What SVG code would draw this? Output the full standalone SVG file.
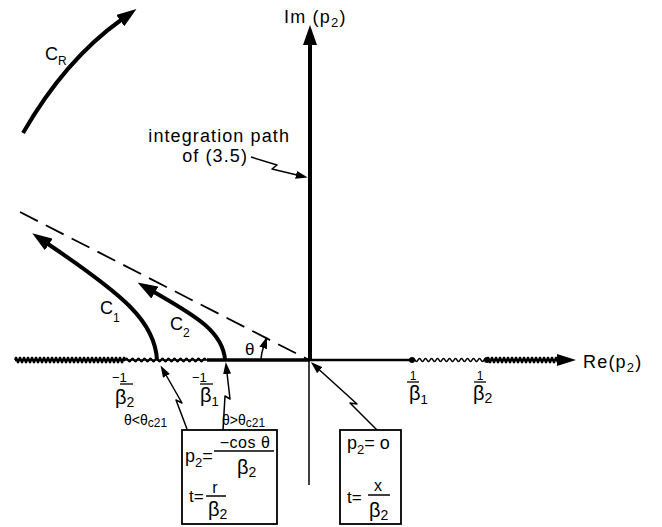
<svg xmlns="http://www.w3.org/2000/svg" width="662" height="527" viewBox="0 0 662 527">
<defs>
<style>
.t{font-family:"Liberation Sans",Arial,sans-serif;fill:#000}
.ln{fill:none;stroke:#000;stroke-linecap:butt;stroke-linejoin:round}
.bold{stroke-width:4}
.thin{stroke-width:1.5}
.box{fill:#fff;stroke:#000;stroke-width:1.8}
</style>
<marker id="big" viewBox="0 0 20 14" refX="1" refY="7" markerWidth="20" markerHeight="14" markerUnits="userSpaceOnUse" orient="auto">
<path d="M0,0 L20,7 L0,14 z" fill="#000"/>
</marker>
<marker id="sm" viewBox="0 0 12 8" refX="1" refY="4" markerWidth="12" markerHeight="8" markerUnits="userSpaceOnUse" orient="auto">
<path d="M0,0 L12,4 L0,8 z" fill="#000"/>
</marker>
</defs>
<rect width="662" height="527" fill="#fff"/>

<g id="axes">
<line class="ln" x1="309" y1="360" x2="309" y2="485" stroke-width="1.5"/>
<line class="ln bold" x1="310" y1="360" x2="310" y2="44" marker-end="url(#big)"/>
<line class="ln" x1="207" y1="360" x2="310" y2="360" stroke-width="3.5"/>
<line class="ln" x1="309" y1="360" x2="412" y2="360" stroke-width="2.4"/>
<path class="ln" stroke-width="2" d="M15,360 q1,-5 2,0 t2,0 t2,0 t2,0 t2,0 t2,0 t2,0 t2,0 t2,0 t2,0 t2,0 t2,0 t2,0 t2,0 t2,0 t2,0 t2,0 t2,0 t2,0 t2,0 t2,0 t2,0 t2,0 t2,0 t2,0 t2,0 t2,0 t2,0 t2,0 t2,0 t2,0 t2,0 t2,0 t2,0 t2,0 t2,0 t2,0 t2,0 t2,0 t2,0 t2,0 t2,0 t2,0 t2,0 t2,0 t2,0 t2,0 t2,0 t2,0 t2,0 t2,0 t2,0 t2,0 t2,0 t2,0"/>
<line class="ln" x1="15" y1="360" x2="125" y2="360" stroke-width="2.4"/>
<path class="ln" stroke-width="1.8" d="M125,360 q1.5,-3 3,0 t3,0 t3,0 t3,0 t3,0 t3,0 t3,0 t3,0 t3,0 t3,0 t3,0 t3,0 t3,0 t3,0 t3,0 t3,0 t3,0 t3,0 t3,0 t3,0 t3,0 t3,0 t3,0 t3,0 t3,0 t3,0 t3,0"/>
<line class="ln" x1="125" y1="360" x2="209" y2="360" stroke-width="1.4"/>
<path class="ln" stroke-width="1.6" d="M412,360 q1.5,-3 3,0 t3,0 t3,0 t3,0 t3,0 t3,0 t3,0 t3,0 t3,0 t3,0 t3,0 t3,0 t3,0 t3,0 t3,0 t3,0 t3,0 t3,0 t3,0 t3,0 t3,0 t3,0 t3,0 t3,0 t3,0"/>
<path class="ln" stroke-width="2" d="M487,360 q1,-5 2,0 t2,0 t2,0 t2,0 t2,0 t2,0 t2,0 t2,0 t2,0 t2,0 t2,0 t2,0 t2,0 t2,0 t2,0 t2,0 t2,0 t2,0 t2,0 t2,0 t2,0 t2,0 t2,0 t2,0 t2,0 t2,0 t2,0 t2,0 t2,0 t2,0 t2,0 t2,0 t2,0 t2,0 t2,0 t2,0"/>
<line class="ln" x1="487" y1="360" x2="559" y2="360" stroke-width="2.4"/>
<path d="M557,354 L576,360 L557,366 z" fill="#000"/>
<circle cx="412" cy="360" r="3" fill="#000"/>
<circle cx="487" cy="360" r="3" fill="#000"/>
<text class="t" x="284" y="23" font-size="18" letter-spacing="1.2">Im (p<tspan font-size="13" dy="4">2</tspan><tspan dy="-4">)</tspan></text>
<text class="t" x="583" y="368" font-size="18" letter-spacing="1.2">Re(p<tspan font-size="13" dy="4">2</tspan><tspan dy="-4">)</tspan></text>
</g>

<g id="dashed-line">
<line class="ln" x1="20" y1="212" x2="309" y2="360" stroke-width="1.8" stroke-dasharray="20,9"/>
</g>

<g id="C_R">
<path class="ln bold" d="M23,133 Q65,60 121,20" marker-end="url(#big)"/>
<text class="t" x="45" y="60" font-size="18">C<tspan font-size="12" dy="5">R</tspan></text>
</g>

<g id="C1">
<path class="ln bold" d="M157,360 C155,322 125,296 48,244" marker-end="url(#big)"/>
<text class="t" x="100" y="314" font-size="18">C<tspan font-size="12" dy="8">1</tspan></text>
</g>

<g id="C2">
<path class="ln bold" d="M225,360 C223,330 190,313 154,292" marker-end="url(#big)"/>
<text class="t" x="170" y="330" font-size="18">C<tspan font-size="12" dy="7">2</tspan></text>
</g>

<g id="theta">
<text class="t" x="245" y="355" font-size="17">θ</text>
<path class="ln" stroke-width="1.5" d="M261,359 A48,48 0 0 1 263.5,347" marker-end="url(#sm)"/>
</g>

<g id="integration-label">
<text class="t" x="290" y="142" font-size="18" text-anchor="end" letter-spacing="1.1">integration path</text>
<text class="t" x="248" y="162" font-size="18" text-anchor="end" letter-spacing="1.1">of (3.5)</text>
</g>

<g id="tick-labels">
<text class="t" x="112" y="382" font-size="13">−1</text>
<line class="ln" x1="120" y1="384" x2="133" y2="384" stroke-width="1.3"/>
<text class="t" x="115" y="404" font-size="20">β<tspan font-size="14" dy="3">2</tspan></text>
<text class="t" x="192" y="382" font-size="13">−1</text>
<line class="ln" x1="200" y1="384" x2="213" y2="384" stroke-width="1.3"/>
<text class="t" x="200" y="402" font-size="20">β<tspan font-size="13" dy="4">1</tspan></text>
<text class="t" x="413" y="380" font-size="12" text-anchor="middle">1</text>
<line class="ln" x1="407" y1="382" x2="419" y2="382" stroke-width="1.3"/>
<text class="t" x="409" y="400" font-size="20">β<tspan font-size="13" dy="4">1</tspan></text>
<text class="t" x="480" y="380" font-size="12" text-anchor="middle">1</text>
<line class="ln" x1="474" y1="382" x2="486" y2="382" stroke-width="1.3"/>
<text class="t" x="473" y="400" font-size="20">β<tspan font-size="14" dy="3">2</tspan></text>
</g>

<g id="connectors">
<path class="ln thin" d="M251,157 L277,165 L272,169 L297,175" marker-end="url(#sm)"/>
<path class="ln thin" d="M187,429 L176,400 L182,403 L166,375" marker-end="url(#sm)"/>
<path class="ln thin" d="M223,430 L225,396 L230,399 L227,373" marker-end="url(#sm)"/>
<path class="ln thin" d="M377,430 L350,403 L357,404 L319,369.5" marker-end="url(#sm)"/>
</g>

<g id="cond-labels">
<text class="t" x="124" y="425" font-size="14">θ&lt;θ<tspan font-size="12" dy="2">c21</tspan></text>
<text class="t" x="222" y="425" font-size="14">θ&gt;θ<tspan font-size="12" dy="2">c21</tspan></text>
</g>

<g id="box1">
<rect class="box" x="182" y="430" width="95" height="94"/>
<text class="t" x="185" y="462" font-size="18">p<tspan font-size="13" dy="5">2</tspan><tspan dy="-5">=</tspan></text>
<text class="t" x="245" y="448" font-size="16" text-anchor="middle" letter-spacing="0.5">−cos θ</text>
<line class="ln" x1="214" y1="451" x2="274" y2="451" stroke-width="1.5"/>
<text class="t" x="237" y="474" font-size="20">β<tspan font-size="14" dy="3">2</tspan></text>
<text class="t" x="189" y="502" font-size="17">t=</text>
<text class="t" x="215" y="493" font-size="16" text-anchor="middle">r</text>
<line class="ln" x1="206" y1="496" x2="226" y2="496" stroke-width="1.5"/>
<text class="t" x="208" y="516" font-size="20">β<tspan font-size="14" dy="3">2</tspan></text>
</g>

<g id="box2">
<rect class="box" x="340" y="430" width="61" height="94"/>
<text class="t" x="347" y="449" font-size="18">p<tspan font-size="13" dy="5">2</tspan><tspan dy="-5">= o</tspan></text>
<text class="t" x="347" y="503" font-size="17">t=</text>
<text class="t" x="378" y="491" font-size="16" text-anchor="middle">x</text>
<line class="ln" x1="368" y1="495" x2="390" y2="495" stroke-width="1.5"/>
<text class="t" x="369" y="517" font-size="20">β<tspan font-size="14" dy="3">2</tspan></text>
</g>
</svg>
